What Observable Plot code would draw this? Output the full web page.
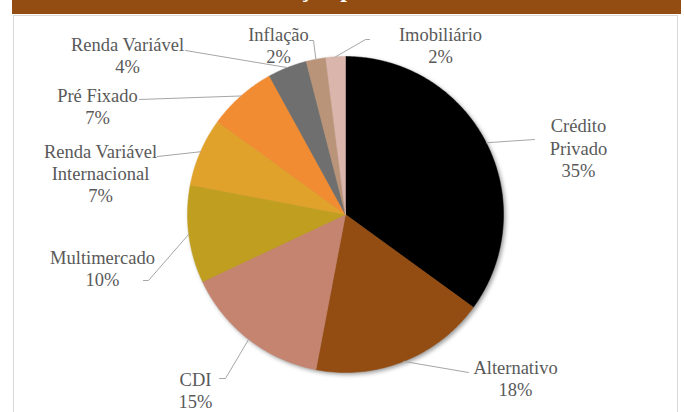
<!DOCTYPE html>
<html>
<head>
<meta charset="utf-8">
<script src="https://cdn.jsdelivr.net/npm/d3@7"></script>
<script src="https://cdn.jsdelivr.net/npm/@observablehq/plot@0.6"></script>
<style>
  html, body { margin: 0; padding: 0; background: #fff; }
  #wrap { position: relative; width: 684px; height: 412px; overflow: hidden; }
  #header { position: absolute; left: 12px; top: 0; width: 669px; height: 14px; background: #934D13; overflow: hidden; }
  #header span { position: absolute; left: 229px; top: -23px; font-family: "Liberation Serif", serif; font-weight: bold; font-size: 24px; line-height: 24px; color: #fff; white-space: nowrap; }
  #panel { position: absolute; left: 13px; top: 15px; width: 663px; height: 420px; border: 1px solid #D9D9D9; background: #fff; }
  #chart { position: absolute; left: 0; top: 0; }
  #chart svg { background: transparent; }
</style>
</head>
<body>
<div id="wrap">
  <div id="header"><span>Alocação por Classe de Ativos</span></div>
  <div id="panel"></div>
  <div id="chart"></div>
</div>
<script>
// ---- data ----
const categories = ["Crédito Privado", "Alternativo", "CDI", "Multimercado", "Renda Variável Internacional", "Pré Fixado", "Renda Variável", "Inflação", "Imobiliário"];
const values = [35, 18, 15, 10, 7, 7, 4, 2, 2];
const labelNames = ["Crédito\nPrivado", "Alternativo", "CDI", "Multimercado", "Renda Variável\nInternacional", "Pré Fixado", "Renda Variável", "Inflação", "Imobiliário"];
const colors = ["#000000", "#934D13", "#C48470", "#C09E20", "#E0A22B", "#F28C32", "#6F6F6F", "#B99479", "#D9B5AB"];

// ---- layout (pixels) ----
const W = 684, H = 412, CX = 345, CY = 214, R = 158;
const labelCenters = [[578, 147], [515, 377.5], [195, 389.5], [102, 267.5], [100, 172.5], [97, 105.5], [127, 54.5], [278, 44], [440, 44]];
const leaderEnds = [
  [[534, 139]],
  [[468, 372]],
  [[225, 378], [219, 378]],
  [[148, 280], [143, 280]],
  [[157, 156]],
  [[139, 99]],
  [[185, 50]],
  [[313, 40], [309, 40]],
  [[365, 39], [369, 39]]
];
const toX = px => (px - CX) / R;
const toY = py => (CY - py) / R;

// ---- geometry from values ----
const total = d3.sum(values);
const pieArcs = d3.pie().sort(null).value(d => d)(values);
const slices = [];
const rim = [];
const leaderPts = [];
const labels = [];
pieArcs.forEach((a, i) => {
  const name = categories[i];
  const pts = [{name, x: 0, y: 0}];
  const n = Math.max(2, Math.ceil((a.endAngle - a.startAngle) / 0.01));
  for (let k = 0; k <= n; k++) {
    const t = a.startAngle + (a.endAngle - a.startAngle) * k / n;
    pts.push({name, x: Math.sin(t), y: Math.cos(t)});
    rim.push({x: Math.sin(t), y: Math.cos(t)});
  }
  pts.push({name, x: 0, y: 0});
  slices.push(pts);
  const mid = (a.startAngle + a.endAngle) / 2;
  leaderPts.push({name, x: Math.sin(mid), y: Math.cos(mid)});
  leaderEnds[i].forEach(([px, py]) => leaderPts.push({name, x: toX(px), y: toY(py)}));
  labels.push({name, x: toX(labelCenters[i][0]), y: toY(labelCenters[i][1]),
               text: labelNames[i] + "\n" + Math.round(values[i] / total * 100) + "%"});
});

const chart = Plot.plot({
  width: W, height: H,
  margin: 0,
  x: {domain: [toX(0), toX(W)], axis: null},
  y: {domain: [toY(H), toY(0)], axis: null},
  marks: [
    Plot.line(rim, {x: "x", y: "y", fill: "#000", fillOpacity: 0.4, stroke: "none"}),
    ...slices.map((pts, i) => Plot.line(pts, {x: "x", y: "y", fill: colors[i], stroke: colors[i], strokeWidth: 0.5})),
    Plot.line(leaderPts, {x: "x", y: "y", z: "name", stroke: "#A6A6A6", strokeWidth: 1}),
    Plot.text(labels, {x: "x", y: "y", text: "text", fill: "#595959", fontSize: 18.5, fontFamily: "Liberation Serif", lineHeight: 1.2, textAnchor: "middle"})
  ]
});
document.getElementById("chart").appendChild(chart);

// soft shadow under the pie (applied to the first line mark, the rim)
const ns = "http://www.w3.org/2000/svg";
const defs = document.createElementNS(ns, "defs");
const filter = document.createElementNS(ns, "filter");
filter.setAttribute("id", "pieShadow");
filter.setAttribute("x", "-10%"); filter.setAttribute("y", "-10%");
filter.setAttribute("width", "120%"); filter.setAttribute("height", "120%");
const blur = document.createElementNS(ns, "feGaussianBlur");
blur.setAttribute("stdDeviation", "2");
const off = document.createElementNS(ns, "feOffset");
off.setAttribute("dx", "1.5"); off.setAttribute("dy", "1.5");
filter.appendChild(blur); filter.appendChild(off);
defs.appendChild(filter);
chart.insertBefore(defs, chart.firstChild);
const shadowG = chart.querySelector('g[aria-label="line"]');
if (shadowG) shadowG.setAttribute("filter", "url(#pieShadow)");
</script>
</body>
</html>
